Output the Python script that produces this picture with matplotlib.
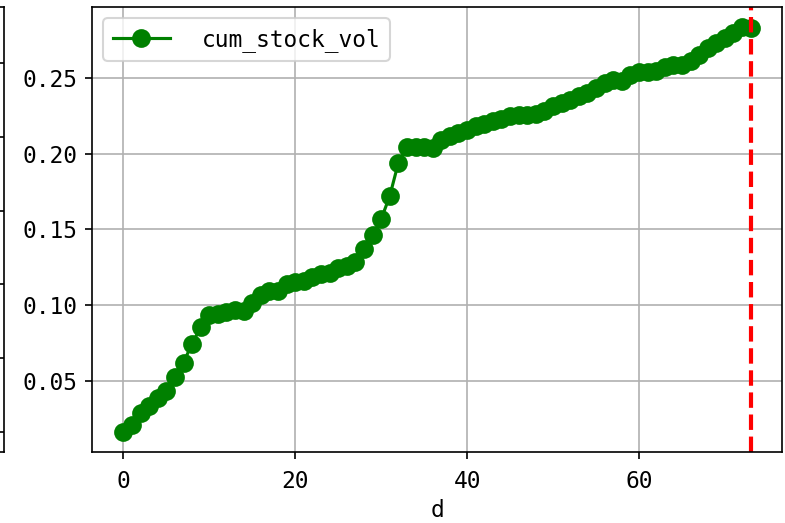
import matplotlib
matplotlib.use("Agg")
import matplotlib.pyplot as plt
from matplotlib.ticker import MultipleLocator

plt.rcParams["font.family"] = ["DejaVu Sans Mono"]
plt.rcParams["font.size"] = 11

# cumulative stock volatility by day d
days = list(range(74))
cum_stock_vol = [
    0.0163, 0.0207, 0.0284, 0.0334, 0.0383, 0.0432, 0.0525, 0.0620, 0.0745, 0.0854,
    0.0931, 0.0942, 0.0953, 0.0964, 0.0960, 0.1013, 0.1063, 0.1090, 0.1095, 0.1139,
    0.1155, 0.1161, 0.1188, 0.1205, 0.1210, 0.1245, 0.1260, 0.1282, 0.1370, 0.1462,
    0.1567, 0.1720, 0.1939, 0.2045, 0.2043, 0.2043, 0.2038, 0.2093, 0.2115, 0.2137,
    0.2159, 0.2181, 0.2198, 0.2214, 0.2230, 0.2247, 0.2255, 0.2258, 0.2262, 0.2284,
    0.2313, 0.2334, 0.2357, 0.2380, 0.2400, 0.2433, 0.2466, 0.2488, 0.2477, 0.2521,
    0.2540, 0.2537, 0.2547, 0.2570, 0.2587, 0.2587, 0.2609, 0.2653, 0.2696, 0.2729,
    0.2766, 0.2795, 0.2835, 0.2828,
]
cut_day = 73

# neighbouring subplot, mostly cropped away on the left
left_ticks = [0, 1, 2, 3, 4, 5]

fig = plt.figure(figsize=(785 / 150, 523 / 150), dpi=150)

ax0 = fig.add_axes([-0.3, 0.1358, 0.3051, 0.8508])
ax0.set_ylim(-0.271, 5.758)
ax0.set_yticks(left_ticks)
ax0.yaxis.tick_right()
ax0.tick_params(axis="y", direction="in", labelright=False)
ax0.set_xticks([])

ax = fig.add_axes([0.1172, 0.1358, 0.879, 0.8508])
ax.plot(days, cum_stock_vol, color="green", marker="o", markersize=8,
        label="cum_stock_vol")
ax.axvline(cut_day, color="red", linestyle="--", linewidth=2)
ax.xaxis.set_major_locator(MultipleLocator(20))
ax.grid(True)
ax.tick_params(axis="x", pad=5)
ax.set_xlabel("d", labelpad=3)
ax.legend(loc="upper left", handlelength=2.5, handletextpad=1.4)

fig.savefig("out.png", dpi=150)
